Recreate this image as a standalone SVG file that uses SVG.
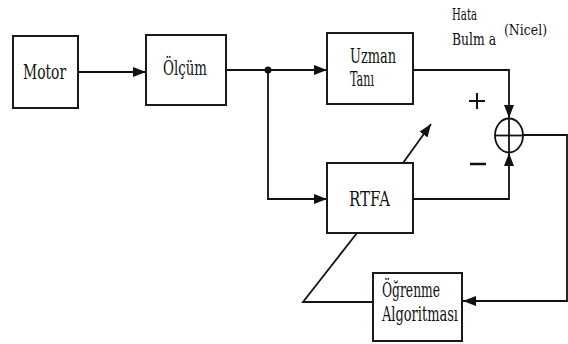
<svg xmlns="http://www.w3.org/2000/svg" width="568" height="344" viewBox="0 0 568 344">
<style>
.box{fill:#fff;stroke:#1a1a1a;stroke-width:2}
.ln{fill:none;stroke:#111;stroke-width:1.8}
.t{font-family:'DejaVu Serif','Liberation Serif',serif;font-size:20px;fill:#111}
.s{font-size:17px}
.xs{font-size:15px}
</style>
<defs>
<marker id="ah" viewBox="0 0 13 10" refX="13" refY="5" markerWidth="13" markerHeight="10" markerUnits="userSpaceOnUse" orient="auto">
<path d="M0,0 L13,5 L0,10 Z" fill="#111"/>
</marker>
</defs>
<rect width="568" height="344" fill="#fff"/>
<g id="connectors">
<line class="ln" x1="78" y1="72" x2="146" y2="72" marker-end="url(#ah)"/>
<line class="ln" x1="226" y1="70" x2="268" y2="70"/>
<line class="ln" x1="268" y1="70" x2="327" y2="70" marker-end="url(#ah)"/>
<polyline class="ln" points="268,70 268,199 327,199" marker-end="url(#ah)"/>
<polyline class="ln" points="413,70 509,70 509,118" marker-end="url(#ah)"/>
<polyline class="ln" points="413,199 509,199 509,153" marker-end="url(#ah)"/>
<polyline class="ln" points="523,135 567,135 567,301 463,301" marker-end="url(#ah)"/>
<polyline class="ln" points="373,302 303,302 357,233"/>
<line class="ln" x1="403" y1="163" x2="431" y2="124" marker-end="url(#ah)"/>
<circle cx="268" cy="70" r="3.5" fill="#111"/>
</g>
<g id="motor">
<rect class="box" x="13" y="36" width="65" height="72"/>
<text class="t" x="23" y="79" textLength="43" lengthAdjust="spacingAndGlyphs">Motor</text>
</g>
<g id="olcum">
<rect class="box" x="146" y="35" width="80" height="70"/>
<text class="t" x="163" y="75" textLength="44" lengthAdjust="spacingAndGlyphs">Ölçüm</text>
</g>
<g id="uzman">
<rect class="box" x="327" y="33" width="86" height="71"/>
<text class="t" x="350" y="63" textLength="46" lengthAdjust="spacingAndGlyphs">Uzman</text>
<text class="t" x="350" y="86" textLength="24" lengthAdjust="spacingAndGlyphs">Tanı</text>
</g>
<g id="rtfa">
<rect class="box" x="327" y="163" width="86" height="70"/>
<text class="t" x="349" y="206" textLength="41" lengthAdjust="spacingAndGlyphs">RTFA</text>
</g>
<g id="ogrenme">
<rect class="box" x="373" y="273" width="89" height="68"/>
<text class="t" x="382" y="297" textLength="58" lengthAdjust="spacingAndGlyphs">Öğrenme</text>
<text class="t" x="382" y="321" textLength="76" lengthAdjust="spacingAndGlyphs">Algoritması</text>
</g>
<g id="sum">
<ellipse cx="509" cy="135.5" rx="14" ry="17" fill="#fff" stroke="#111" stroke-width="1.8"/>
<line class="ln" x1="495" y1="135.5" x2="523" y2="135.5"/>
<line class="ln" x1="509" y1="118.5" x2="509" y2="152.5"/>
</g>
<g id="labels">
<line x1="469" y1="101" x2="485" y2="101" stroke="#111" stroke-width="2"/>
<line x1="477" y1="93" x2="477" y2="109" stroke="#111" stroke-width="2"/>
<line x1="470" y1="164" x2="486" y2="164" stroke="#111" stroke-width="2.5"/>
<text class="t s" x="452" y="20" textLength="25" lengthAdjust="spacingAndGlyphs">Hata</text>
<text class="t s" x="452" y="45" textLength="44" lengthAdjust="spacingAndGlyphs">Bulm a</text>
<text class="t xs" x="504" y="35" textLength="43" lengthAdjust="spacingAndGlyphs">(Nicel)</text>
</g>
</svg>
